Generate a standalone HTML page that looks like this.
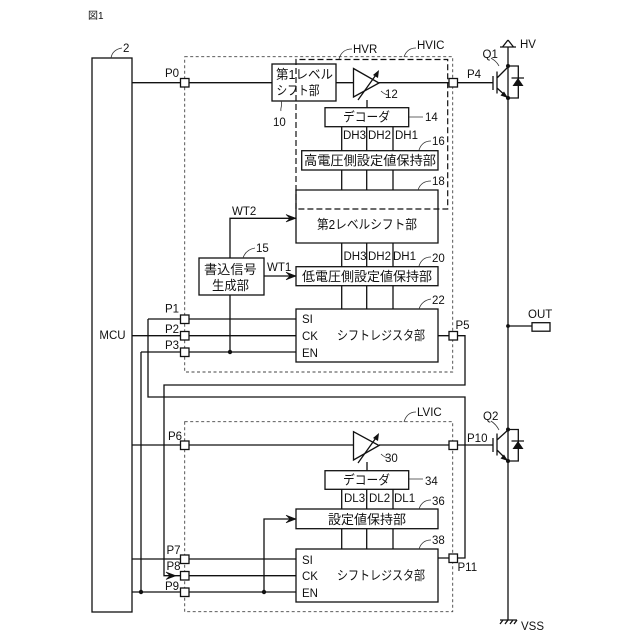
<!DOCTYPE html>
<html><head><meta charset="utf-8"><style>
html,body{margin:0;padding:0;background:#fff}
svg{display:block}
text{font-family:"Liberation Sans","Noto Sans CJK JP",sans-serif;fill:#111;font-size:11.5px}
.j{font-size:12.8px}
.m{text-anchor:middle}
.l{fill:none;stroke:#111;stroke-width:1.3}
.b{fill:#fff;stroke:#111;stroke-width:1.3}
.t{fill:none;stroke:#333;stroke-width:.8}
.d{fill:none;stroke:#444;stroke-width:.9;stroke-dasharray:3 2.5}
.D{fill:none;stroke:#111;stroke-width:1.2;stroke-dasharray:6 3}
.a{fill:#111;stroke:#111;stroke-width:.6}
.f{fill:#111;stroke:none}
</style></head><body>
<svg width="640" height="640" viewBox="0 0 640 640" xmlns="http://www.w3.org/2000/svg">
<rect width="640" height="640" fill="#fff"/>
<text x="88" y="19" style="font-size:10px">図1</text>

<!-- thin dashed regions -->
<rect class="d" x="184.7" y="56.7" width="268" height="315.3"/>
<rect class="d" x="184.7" y="421.7" width="268" height="190"/>

<!-- MCU -->
<rect class="b" x="92" y="58" width="40" height="554"/>
<text x="112.5" y="339" class="m">MCU</text>
<path class="t" d="M111 58C112 52 116 49 122 48"/><text x="123" y="52">2</text>

<!-- wires upper -->
<path class="l" d="M132 82.7H272M336 82.7H353M379 82.7H493M367 100V108M341.7 126.7V150.7M366.7 126.7V150.7M393 126.7V150.7M341.7 170V190M366.7 170V190M393 170V190M341.7 243V266.7M366.7 243V266.7M393 243V266.7M341.7 285.7V309M366.7 285.7V309M393 285.7V309"/>
<path class="l" d="M230 258V218.3H296M264 276H296M230 295V352"/>
<path class="l" d="M148 319H296M132 335.7H296M141 352H296M148 319V397H465V558H453M141 352V592M438 335.7H465V385H164V575.7H176"/>
<circle class="f" cx="230" cy="352" r="2.2"/>

<!-- wires lower -->
<path class="l" d="M132 445H353M379 445H493M132 559H296M176 575.7H296M132 592H296M264 592V519H296M367 462V470.7M341.7 489.3V509M366.7 489.3V509M393 489.3V509M341.7 528.7V549M366.7 528.7V549M393 528.7V549M438 558H453"/>
<circle class="f" cx="141" cy="592" r="2.2"/><circle class="f" cx="264" cy="592" r="2.2"/>

<!-- arrowheads -->
<path class="a" d="M286 214.5L296 218.3L286 222L290 218.3ZM286 272.2L296 276L286 279.8L290 276ZM286 515.2L296 519L286 522.8L290 519ZM166 572L176 575.7L166 579.5L170 575.7Z"/>

<!-- upper boxes -->
<rect class="b" x="272" y="64" width="64" height="37"/>
<rect class="b" x="325" y="107.7" width="83.7" height="19"/>
<rect class="b" x="301.7" y="150.7" width="136.3" height="19.3"/>
<path class="l" d="M296 190H438V243H296Z"/>
<rect class="b" x="296" y="266.7" width="142" height="19"/>
<rect class="b" x="296" y="309" width="142" height="53"/>
<rect class="b" x="199" y="258" width="65" height="37"/>
<path class="D" d="M296 209V59.5H447.7V209H296"/>

<!-- lower boxes -->
<rect class="b" x="325" y="470.7" width="83.7" height="18.6"/>
<rect class="b" x="296" y="509" width="142" height="19.7"/>
<rect class="b" x="296" y="549" width="142" height="53"/>

<!-- amplifiers -->
<path class="b" d="M353.5 68.5L379 83L353.5 97Z"/><path class="l" d="M358 100L378 72"/><path class="f" d="M379 70L378 78L373 75Z"/>
<path class="b" d="M353.5 431.7L379 445.5L353.5 460Z"/><path class="l" d="M358 463L378 435"/><path class="f" d="M379 433L378 441L373 438Z"/>

<!-- ports -->
<rect class="b" x="180.5" y="78.5" width="8.5" height="8.5"/>
<rect class="b" x="449" y="78.5" width="8.5" height="8.5"/>
<rect class="b" x="180.5" y="315" width="8.5" height="8.5"/>
<rect class="b" x="180.5" y="331.5" width="8.5" height="8.5"/>
<rect class="b" x="180.5" y="348" width="8.5" height="8.5"/>
<rect class="b" x="449" y="331.5" width="8.5" height="8.5"/>
<rect class="b" x="180.5" y="441" width="8.5" height="8.5"/>
<rect class="b" x="449" y="441" width="8.5" height="8.5"/>
<rect class="b" x="180.5" y="555" width="8.5" height="8.5"/>
<rect class="b" x="180.5" y="571.5" width="8.5" height="8.5"/>
<rect class="b" x="180.5" y="588" width="8.5" height="8.5"/>
<rect class="b" x="449" y="554" width="8.5" height="8.5"/>

<!-- power rail -->
<path class="l" d="M508 47V620M508 326H532"/>
<circle class="f" cx="508" cy="326" r="1.9"/>
<rect class="b" x="532" y="322.7" width="18" height="8.5"/>
<path class="l" d="M500 47H516M508 40L502.5 47M508 40L513.5 47"/>
<path class="l" d="M500 620H517M503 620L500 624M508 620L505 624M513 620L510 624M517 620L514 624"/>

<!-- Q1 -->
<path class="l" d="M493 76V90M497 71.5V93.5M497 78L508 67M497 88L508 98M508 66H518.3V98H508M511.5 78H524"/>
<path class="f" d="M518 78L523.5 86H512.5Z"/>
<path class="f" d="M508 98L500.5 95.5L504 91.5Z"/>
<circle class="f" cx="508" cy="66" r="2"/><circle class="f" cx="508" cy="98" r="2"/>
<!-- Q2 -->
<path class="l" d="M493 438V452M497 433.5V455.5M497 440L508 430M497 450L508 461M508 429.5H518.3V461H508M511.5 441H524"/>
<path class="f" d="M518 441L523.5 449H512.5Z"/>
<path class="f" d="M508 461L500.5 458.5L504 454.5Z"/>
<circle class="f" cx="508" cy="429.5" r="2"/><circle class="f" cx="508" cy="461" r="2"/>

<!-- leaders -->
<path class="t" d="M281 101C283 105 280 108 281 111M339 59C341 52 345 49 352 49M404 57C406 51 410 48 416 48M381 91C384 94 386 95 389 95M499 66C497 62 494 60 491 58M409 117H423M419 150C421 144 425 141 431 141M418 190C420 184 424 181 431 181M243 258C245 252 249 249 255 248M419 266C421 260 425 257 431 257M419 309C421 303 425 300 431 299M404 422C406 415 410 412 416 412M381 454C384 457 386 458 389 458M499 430C497 426 494 423 491 421M409 479H423M419 509C421 503 425 500 431 500M419 549C421 543 425 540 431 540"/>

<!-- Japanese labels -->
<text class="j" x="276" y="79" textLength="57" lengthAdjust="spacingAndGlyphs">第1レベル</text>
<text class="j" x="276.5" y="95" textLength="43" lengthAdjust="spacingAndGlyphs">シフト部</text>
<text class="j" x="343" y="121.5" textLength="47" lengthAdjust="spacingAndGlyphs">デコーダ</text>
<text class="j" x="304" y="165" textLength="132" lengthAdjust="spacingAndGlyphs">高電圧側設定値保持部</text>
<text class="j" x="317" y="229" textLength="100" lengthAdjust="spacingAndGlyphs">第2レベルシフト部</text>
<text class="j" x="302" y="281" textLength="130" lengthAdjust="spacingAndGlyphs">低電圧側設定値保持部</text>
<text class="j" x="337" y="340" textLength="88" lengthAdjust="spacingAndGlyphs">シフトレジスタ部</text>
<text class="j" x="204" y="274" textLength="52.7" lengthAdjust="spacingAndGlyphs">書込信号</text>
<text class="j" x="212" y="290" textLength="37" lengthAdjust="spacingAndGlyphs">生成部</text>
<text class="j" x="343" y="484.5" textLength="47" lengthAdjust="spacingAndGlyphs">デコーダ</text>
<text class="j" x="328" y="524" textLength="78" lengthAdjust="spacingAndGlyphs">設定値保持部</text>
<text class="j" x="337" y="580" textLength="88" lengthAdjust="spacingAndGlyphs">シフトレジスタ部</text>

<!-- Latin labels -->
<text x="343" y="139">DH3</text><text x="368" y="139">DH2</text><text x="395" y="139">DH1</text>
<text x="343.5" y="260">DH3</text><text x="368" y="260">DH2</text><text x="393" y="260">DH1</text>
<text x="344" y="502">DL3</text><text x="369" y="502">DL2</text><text x="394" y="502">DL1</text>
<text x="232" y="215">WT2</text><text x="267" y="271">WT1</text>
<text x="165" y="77">P0</text><text x="467" y="78">P4</text>
<text x="165" y="312.5">P1</text><text x="165" y="333">P2</text><text x="165" y="349">P3</text>
<text x="455.5" y="329">P5</text><text x="168" y="440">P6</text><text x="467" y="442">P10</text>
<text x="166.5" y="554">P7</text><text x="166.5" y="570">P8</text><text x="165" y="590">P9</text><text x="457.5" y="571">P11</text>
<text x="302" y="323">SI</text><text x="302" y="340">CK</text><text x="302" y="357">EN</text>
<text x="302" y="564">SI</text><text x="302" y="580">CK</text><text x="302" y="597">EN</text>
<text x="353" y="53">HVR</text><text x="417" y="49">HVIC</text><text x="417" y="416">LVIC</text>
<text x="520" y="48">HV</text><text x="482.5" y="58">Q1</text><text x="483" y="420">Q2</text>
<text x="528" y="318">OUT</text><text x="521" y="630">VSS</text>
<text x="385" y="98">12</text><text x="425" y="121">14</text><text x="432" y="145">16</text><text x="432" y="185">18</text>
<text x="256" y="252">15</text><text x="432" y="262">20</text><text x="432" y="304">22</text>
<text x="385" y="462">30</text><text x="425" y="485">34</text><text x="432" y="505">36</text><text x="432" y="544">38</text>
<text x="273" y="126">10</text>
</svg>
</body></html>
